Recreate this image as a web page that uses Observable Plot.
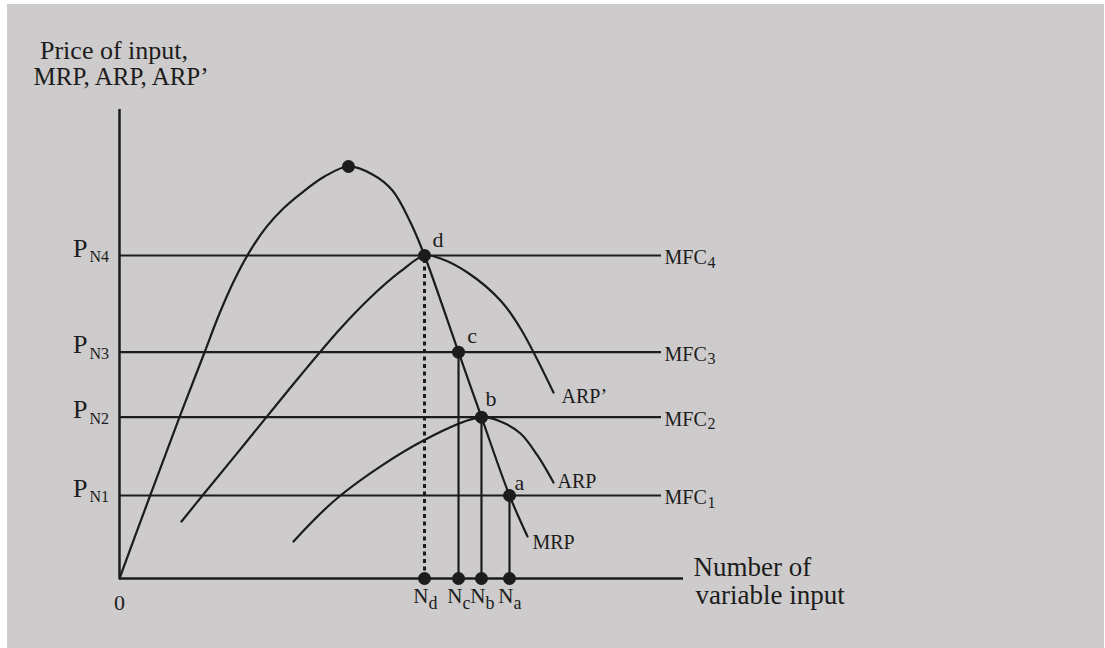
<!DOCTYPE html>
<html><head><meta charset="utf-8">
<script src="https://cdn.jsdelivr.net/npm/d3@7"></script>
<script src="https://cdn.jsdelivr.net/npm/@observablehq/plot@0.6"></script>
<style>
html,body{margin:0;padding:0;background:#fff;}
#bg{position:absolute;left:7px;top:4px;width:1097px;height:644px;background:#cdcbcb;}
#chart{position:absolute;left:0;top:0;}
</style></head>
<body><div id="bg"></div><div id="chart"></div>
<script>
// ---- data (chart units: x = number of variable input, y = price / revenue, both 0–100) ----
const mrpX = [0, 5.50, 10.64, 15.07, 17.73, 20.39, 23.23, 26.06, 29.08, 32.09, 36.35, 40.60, 44.86, 48.40, 51.60, 54.08, 60.11, 64.18, 69.15, 72.34];
const mrpY = [0, 17.91, 34.39, 48.19, 56.50, 63.70, 70.01, 74.96, 78.94, 82.03, 85.71, 87.85, 86.14, 82.73, 75.91, 68.87, 48.25, 34.39, 17.70, 8.96];
const arpPrimeX = [10.99, 14.72, 22.70, 32.09, 39.18, 44.50, 49.82, 54.08, 56.91, 61.70, 67.55, 71.10, 76.95];
const arpPrimeY = [12.15, 17.70, 29.42, 43.28, 53.30, 59.91, 65.46, 68.87, 68.23, 65.24, 59.28, 53.30, 39.66];
const arpX = [30.85, 39.18, 53.90, 64.18, 67.55, 71.10, 74.11, 76.95];
const arpY = [7.89, 17.70, 29.42, 34.39, 33.48, 30.92, 26.23, 20.47];
const levelValues = [17.70, 34.39, 48.25, 68.87];
const levelTicks = ["N1", "N2", "N3", "N4"];
const mfcSubs = ["1", "2", "3", "4"];
const pointNames = ["d", "c", "b", "a"];
const pointX = [54.08, 60.11, 64.18, 69.15];
const pointY = [68.87, 48.25, 34.39, 17.70];
const peakX = [40.60];
const peakY = [87.85];
const titleLines = ["Price of input,", "MRP, ARP, ARP\u2019"];
const xTitleLines = ["Number of", "variable input"];
const curveNames = ["MRP", "ARP\u2019", "ARP"];

// ---- build tables ----
const zip = (xs, ys) => xs.map((x, i) => ({x, y: ys[i]}));
const mrp = zip(mrpX, mrpY);
const arpP = zip(arpPrimeX, arpPrimeY);
const arp = zip(arpX, arpY);
const pts = pointNames.map((n, i) => ({name: n, x: pointX[i], y: pointY[i]}));
const levels = levelValues.map((v, i) => ({y: v, tick: levelTicks[i], sub: mfcSubs[i]}));
const tickMap = new Map(levels.map(d => [d.y, d.tick]));
const nameMap = new Map(pts.map(d => [d.x, d.name]));
const peak = zip(peakX, peakY);

const W = 1105, H = 648;
const ink = "#1c1c1c";
const serif = "'Liberation Serif', 'Times New Roman', serif";
const lineEnd = 96.1;

const pt = n => pts.filter(d => d.name === n);
const ptLabel = (n, dx, dy) => Plot.text(pt(n), {x: "x", y: "y", text: "name", dx, dy, textAnchor: "start", fontSize: 22, fill: ink});
const curveLabel = (data, name, dx, dy) => Plot.text([data[data.length - 1]], {x: "x", y: "y", text: () => name, dx, dy, textAnchor: "start", fontSize: 20, fill: ink});

const chart = Plot.plot({
  width: W, height: H,
  marginLeft: 119, marginRight: W - 683, marginTop: 109, marginBottom: H - 578,
  x: {domain: [0, 100], axis: null},
  y: {domain: [0, 100], axis: null},
  style: {background: "transparent", fontFamily: serif, color: ink, overflow: "visible"},
  marks: [
    // axes lines
    Plot.ruleX([0], {y1: 0, y2: 100, stroke: ink, strokeWidth: 2.5}),
    Plot.ruleY([0], {x1: 0, x2: 100, stroke: ink, strokeWidth: 2.5}),
    // MFC lines
    Plot.ruleY(levels, {y: "y", x1: 0, x2: lineEnd, stroke: ink, strokeWidth: 2.2}),
    // drop lines
    Plot.ruleX(pts.filter(d => d.name !== "d"), {x: "x", y1: 0, y2: "y", stroke: ink, strokeWidth: 2.2}),
    Plot.ruleX(pt("d"), {x: "x", y1: 0, y2: "y", stroke: ink, strokeWidth: 3, strokeDasharray: "4,3.5"}),
    // curves
    Plot.line(mrp, {x: "x", y: "y", curve: "catmull-rom", stroke: ink, strokeWidth: 2.2}),
    Plot.line(arpP, {x: "x", y: "y", curve: "catmull-rom", stroke: ink, strokeWidth: 2.2}),
    Plot.line(arp, {x: "x", y: "y", curve: "catmull-rom", stroke: ink, strokeWidth: 2.2}),
    // dots
    Plot.dot([...pts, ...peak], {x: "x", y: "y", r: 6.5, fill: ink, stroke: "none"}),
    Plot.dot(pts, {x: "x", y: () => 0, r: 6.5, fill: ink, stroke: "none"}),
    // y tick labels P_Nk
    Plot.axisY(levelValues, {anchor: "left", tickSize: 0, tickPadding: 32, tickFormat: () => "P", fontSize: 26, dy: -7.3, label: null, fill: ink}),
    Plot.axisY(levelValues, {anchor: "left", tickSize: 0, tickPadding: 30, textAnchor: "start", tickFormat: d => tickMap.get(d), fontSize: 16, dy: 1.6, label: null, fill: ink}),
    // x tick labels N_k and 0
    Plot.axisX(pointX, {anchor: "bottom", tickSize: 0, tickPadding: 10, textAnchor: "end", tickFormat: () => "N", dx: 4, fontSize: 21, label: null, fill: ink}),
    Plot.axisX(pointX, {anchor: "bottom", tickSize: 0, tickPadding: 17.5, textAnchor: "start", tickFormat: d => nameMap.get(d), dx: 4, fontSize: 18, label: null, fill: ink}),
    Plot.axisX([0], {anchor: "bottom", tickSize: 0, tickPadding: 16, tickFormat: () => "0", fontSize: 22, label: null, fill: ink}),
    // MFC labels
    Plot.text(levels, {x: () => lineEnd, y: "y", text: () => "MFC", dx: 3, dy: 2, textAnchor: "start", fontSize: 20, fill: ink}),
    Plot.text(levels, {x: () => lineEnd, y: "y", text: "sub", dx: 46, dy: 7, textAnchor: "start", fontSize: 16, fill: ink}),
    // point labels
    ptLabel("d", 8, -15.4),
    ptLabel("c", 8.7, -16.4),
    ptLabel("b", 4, -18),
    ptLabel("a", 5, -12.4),
    // curve labels
    curveLabel(mrp, curveNames[0], 5, 6),
    curveLabel(arpP, curveNames[1], 8, 3.6),
    curveLabel(arp, curveNames[2], 4, -1.4),
    // axis titles
    Plot.text([titleLines[0]], {frameAnchor: "top-left", dx: -79.5, dy: -59, textAnchor: "start", lineAnchor: "middle", fontSize: 26, fill: ink}),
    Plot.text([titleLines[1]], {frameAnchor: "top-left", dx: -86, dy: -33, textAnchor: "start", lineAnchor: "middle", fontSize: 25, fill: ink}),
    Plot.text([xTitleLines[0]], {x: () => 100, y: () => 0, dx: 10, dy: -11.6, textAnchor: "start", fontSize: 27, fill: ink}),
    Plot.text([xTitleLines[1]], {x: () => 100, y: () => 0, dx: 12, dy: 16.4, textAnchor: "start", fontSize: 27, fill: ink})
  ]
});
document.getElementById("chart").appendChild(chart);
</script>
</body></html>
